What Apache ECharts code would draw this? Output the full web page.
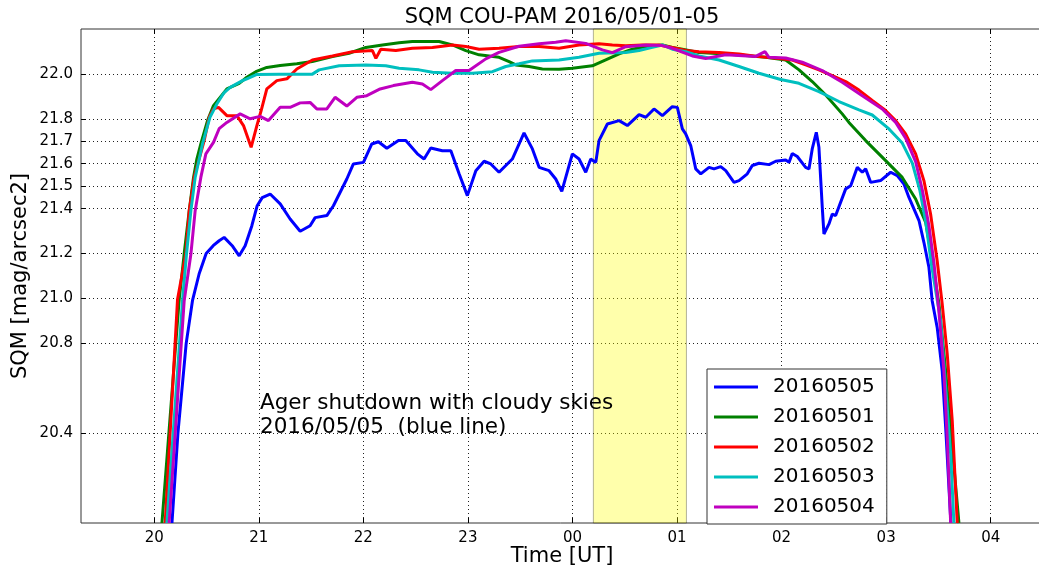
<!DOCTYPE html>
<html>
<head>
<meta charset="utf-8">
<script src="https://cdn.jsdelivr.net/npm/echarts@6/dist/echarts.min.js"></script>
<style>
  html, body { margin: 0; padding: 0; background: #fff; }
  #chart { width: 1039px; height: 572px; }
</style>
</head>
<body>
<div id="chart"></div>
<script>
// hour of night (24+ = after midnight UT), SQM mag/arcsec2
const d0505 = [
  [20.17,20.0],[20.227,20.4],[20.306,20.8],[20.366,20.99],[20.43,21.11],[20.497,21.2],[20.564,21.235],[20.621,21.257],
  [20.669,21.272],[20.746,21.235],[20.813,21.19],[20.87,21.235],[20.934,21.324],[20.985,21.413],[21.033,21.449],[21.109,21.465],
  [21.205,21.421],[21.3,21.354],[21.396,21.299],[21.491,21.324],[21.539,21.36],[21.651,21.369],[21.714,21.413],[21.842,21.532],
  [21.905,21.599],[22.001,21.606],[22.081,21.688],[22.144,21.698],[22.225,21.669],[22.336,21.703],[22.406,21.703],[22.517,21.644],
  [22.581,21.621],[22.645,21.67],[22.756,21.658],[22.837,21.658],[22.916,21.555],[22.995,21.458],[23.076,21.569],[23.155,21.611],
  [23.219,21.599],[23.298,21.562],[23.425,21.621],[23.537,21.737],[23.617,21.666],[23.681,21.584],[23.776,21.569],[23.84,21.532],
  [23.898,21.477],[23.999,21.644],[24.063,21.621],[24.127,21.562],[24.175,21.621],[24.223,21.606],[24.254,21.703],[24.334,21.777],
  [24.446,21.792],[24.525,21.77],[24.637,21.819],[24.701,21.807],[24.78,21.844],[24.86,21.814],[24.955,21.854],[25.003,21.851],
  [25.051,21.755],[25.083,21.733],[25.131,21.681],[25.179,21.577],[25.227,21.555],[25.306,21.584],[25.354,21.577],[25.418,21.587],
  [25.466,21.569],[25.545,21.517],[25.593,21.525],[25.672,21.555],[25.72,21.592],[25.784,21.602],[25.88,21.596],[25.944,21.611],
  [26.039,21.617],[26.071,21.606],[26.102,21.646],[26.15,21.632],[26.23,21.584],[26.262,21.577],[26.293,21.666],[26.332,21.74],
  [26.357,21.673],[26.389,21.406],[26.405,21.287],[26.453,21.332],[26.485,21.376],[26.517,21.369],[26.613,21.488],[26.661,21.502],
  [26.724,21.584],[26.772,21.562],[26.804,21.577],[26.852,21.517],[26.947,21.525],[27.043,21.562],[27.106,21.547],[27.17,21.51],
  [27.218,21.45],[27.314,21.347],[27.361,21.25],[27.409,21.139],[27.44,20.99],[27.488,20.871],[27.536,20.678],[27.571,20.411],
  [27.619,20.0]
];
const d0501 = [
  [20.074,20.0],[20.239,20.995],[20.287,21.2],[20.335,21.391],[20.376,21.539],[20.408,21.621],[20.446,21.688],[20.51,21.792],
  [20.567,21.859],[20.695,21.933],[20.813,21.958],[20.886,21.985],[20.972,22.01],[21.077,22.029],[21.205,22.037],[21.364,22.045],
  [21.513,22.055],[21.705,22.077],[21.864,22.092],[22.024,22.118],[22.183,22.129],[22.342,22.139],[22.469,22.144],[22.725,22.144],
  [22.852,22.129],[22.98,22.104],[23.107,22.085],[23.298,22.074],[23.394,22.055],[23.458,22.04],[23.585,22.033],[23.712,22.022],
  [23.872,22.021],[23.999,22.025],[24.19,22.036],[24.318,22.062],[24.446,22.089],[24.573,22.11],[24.701,22.122],[24.86,22.129],
  [24.955,22.118],[25.051,22.11],[25.21,22.095],[25.466,22.089],[25.657,22.082],[25.848,22.074],[26.039,22.062],[26.167,22.018],
  [26.293,21.966],[26.422,21.906],[26.58,21.822],[26.644,21.784],[26.804,21.703],[26.995,21.614],[27.154,21.539],[27.282,21.443],
  [27.378,21.339],[27.441,21.168],[27.505,20.976],[27.569,20.678],[27.632,20.337],[27.696,20.0]
];
const d0502 = [
  [20.105,20.0],[20.223,20.995],[20.303,21.2],[20.335,21.391],[20.382,21.539],[20.478,21.703],[20.526,21.807],[20.567,21.844],
  [20.615,21.851],[20.695,21.814],[20.791,21.814],[20.854,21.77],[20.927,21.673],[20.982,21.77],[21.023,21.837],[21.077,21.933],
  [21.173,21.97],[21.269,21.978],[21.364,22.022],[21.513,22.062],[21.705,22.08],[21.896,22.099],[22.087,22.104],[22.12,22.069],
  [22.167,22.11],[22.311,22.104],[22.469,22.114],[22.661,22.118],[22.852,22.129],[22.98,22.122],[23.107,22.11],[23.298,22.114],
  [23.489,22.122],[23.681,22.122],[23.872,22.114],[24.063,22.129],[24.254,22.134],[24.382,22.129],[24.51,22.125],[24.668,22.129],
  [24.828,22.129],[24.955,22.118],[25.083,22.104],[25.21,22.099],[25.402,22.095],[25.593,22.089],[25.784,22.077],[25.975,22.069],
  [26.102,22.062],[26.23,22.04],[26.357,22.018],[26.485,21.992],[26.613,21.966],[26.74,21.928],[26.867,21.882],[26.995,21.837],
  [27.091,21.792],[27.186,21.733],[27.282,21.644],[27.361,21.525],[27.425,21.376],[27.488,21.168],[27.536,20.976],[27.584,20.753],
  [27.632,20.456],[27.68,20.0]
];
const d0503 = [
  [20.121,20.0],[20.271,20.99],[20.309,21.198],[20.351,21.391],[20.392,21.539],[20.462,21.688],[20.533,21.807],[20.599,21.866],
  [20.669,21.917],[20.727,21.94],[20.844,21.97],[20.886,21.978],[20.977,21.997],[21.195,21.999],[21.513,21.999],[21.577,22.018],
  [21.769,22.036],[22.024,22.04],[22.215,22.036],[22.342,22.025],[22.533,22.018],[22.661,22.007],[22.852,22.003],[23.043,22.003],
  [23.234,22.01],[23.362,22.033],[23.489,22.045],[23.617,22.058],[23.872,22.062],[24.063,22.074],[24.254,22.092],[24.51,22.095],
  [24.637,22.104],[24.764,22.118],[24.86,22.129],[24.955,22.11],[25.083,22.099],[25.21,22.08],[25.402,22.062],[25.593,22.033],
  [25.784,22.003],[25.991,21.975],[26.166,21.958],[26.357,21.921],[26.549,21.877],[26.74,21.84],[26.867,21.817],[27.027,21.755],
  [27.154,21.692],[27.25,21.603],[27.323,21.48],[27.38,21.338],[27.433,21.151],[27.521,20.901],[27.569,20.604],[27.617,20.307],
  [27.648,20.0]
];
const d0504 = [
  [20.143,20.0],[20.287,20.99],[20.351,21.198],[20.392,21.391],[20.446,21.539],[20.494,21.644],[20.567,21.695],[20.621,21.756],
  [20.695,21.784],[20.822,21.822],[20.918,21.8],[21.013,21.811],[21.093,21.792],[21.205,21.851],[21.3,21.851],[21.396,21.871],
  [21.491,21.873],[21.555,21.844],[21.651,21.844],[21.73,21.896],[21.842,21.857],[21.938,21.896],[22.033,21.903],[22.161,21.933],
  [22.288,21.948],[22.469,21.963],[22.565,21.955],[22.645,21.93],[22.756,21.97],[22.884,22.015],[23.011,22.015],[23.171,22.067],
  [23.298,22.096],[23.489,22.123],[23.681,22.134],[23.84,22.141],[23.936,22.148],[24.127,22.136],[24.286,22.107],[24.382,22.095],
  [24.51,22.121],[24.701,22.129],[24.86,22.126],[24.955,22.114],[25.146,22.08],[25.274,22.069],[25.466,22.085],[25.752,22.078],
  [25.841,22.099],[25.879,22.074],[26.039,22.071],[26.198,22.052],[26.389,22.015],[26.58,21.963],[26.772,21.903],[26.963,21.844],
  [27.091,21.784],[27.186,21.714],[27.282,21.609],[27.345,21.485],[27.409,21.324],[27.457,21.159],[27.504,20.946],[27.552,20.678],
  [27.584,20.381],[27.617,20.0]
];

const seriesNames = ['20160505', '20160501', '20160502', '20160503', '20160504'];
const seriesData = [d0505, d0501, d0502, d0503, d0504];
const seriesColors = ['#0000ff', '#008000', '#ff0000', '#00bfbf', '#bf00bf'];

const hourTicks = [20, 21, 22, 23, 24, 25, 26, 27, 28];
const sqmTicks = [20.4, 20.8, 21.0, 21.2, 21.4, 21.5, 21.6, 21.7, 21.8, 22.0];
const shadeSpan = [24.2, 25.09];   // 00:12 - 01:05 UT

const font = 'DejaVu Sans, Bitstream Vera Sans, sans-serif';
const chart = echarts.init(document.getElementById('chart'));

const dotted = { color: '#222', width: 1, type: [1, 3] };

const series = seriesNames.map((name, i) => ({
  name: name,
  type: 'line',
  data: seriesData[i],
  symbol: 'none',
  showSymbol: false,
  clip: true,
  lineStyle: { color: seriesColors[i], width: 3 },
  itemStyle: { color: seriesColors[i] },
  emphasis: { disabled: true },
  z: 3 + i,
  markArea: i === 0 ? {
    silent: true,
    itemStyle: { color: 'rgba(255,255,0,0.33)', borderColor: 'rgba(0,0,0,0.3)', borderWidth: 1 },
    data: [[{ xAxis: shadeSpan[0] }, { xAxis: shadeSpan[1] }]]
  } : undefined
}));

chart.setOption({
  animation: false,
  textStyle: { fontFamily: font },
  grid: {
    left: 81, top: 29, width: 962, height: 494,
    containLabel: false,
    outerBoundsMode: 'none',
    show: true, borderColor: '#333', borderWidth: 1, backgroundColor: 'transparent'
  },
  legend: {
    orient: 'vertical',
    left: 707, top: 369,
    data: seriesNames,
    icon: 'rect',
    itemWidth: 44, itemHeight: 3, itemGap: 10,
    padding: [8, 12, 7, 7],
    backgroundColor: '#fff',
    borderColor: '#333', borderWidth: 1, borderRadius: 0,
    selectedMode: false,
    textStyle: { fontSize: 20, color: '#000', fontFamily: font, lineHeight: 20, padding: [0, 0, 0, 10] }
  },
  xAxis: [{
    type: 'value',
    min: 19.3, max: 28.5,
    name: 'Time [UT]',
    nameLocation: 'middle',
    nameGap: 23,
    nameMoveOverlap: false,
    nameTextStyle: { fontSize: 21, color: '#000', fontFamily: font },
    axisLine: { show: false },
    axisTick: { show: true, inside: true, length: 5, lineStyle: { color: '#000' }, customValues: hourTicks },
    axisLabel: {
      fontSize: 15, color: '#000', margin: 8, customValues: hourTicks,
      formatter: v => String(Math.round(v) % 24).padStart(2, '0')
    },
    splitLine: { show: true, lineStyle: dotted }
  }, {
    type: 'value',
    position: 'top',
    min: 19.3, max: 28.5,
    axisLine: { show: false },
    axisTick: { show: true, inside: true, length: 5, lineStyle: { color: '#000' }, customValues: hourTicks },
    axisLabel: { show: false },
    splitLine: { show: false }
  }],
  yAxis: [{
    type: 'value',
    min: 20.0, max: 22.2,
    name: 'SQM [mag/arcsec2]',
    nameLocation: 'middle',
    nameGap: 50,
    nameMoveOverlap: false,
    nameTextStyle: { fontSize: 21, color: '#000', fontFamily: font },
    axisLine: { show: false },
    axisTick: { show: true, inside: true, length: 5, lineStyle: { color: '#000' }, customValues: sqmTicks },
    axisLabel: {
      fontSize: 15, color: '#000', margin: 8, customValues: sqmTicks,
      formatter: v => v.toFixed(1)
    },
    splitLine: { show: true, lineStyle: dotted }
  }],
  graphic: [{
    type: 'text',
    x: 562, y: 7,
    style: { text: 'SQM COU-PAM 2016/05/01-05', fontSize: 21, fill: '#000', fontFamily: font, align: 'center' }
  }, {
    type: 'text',
    x: 260, y: 391,
    z: 10,
    style: {
      text: 'Ager shutdown with cloudy skies\n2016/05/05  (blue line)',
      fontSize: 21.5, lineHeight: 24, fill: '#000', fontFamily: font
    }
  }],
  series: series
});
</script>
</body>
</html>
